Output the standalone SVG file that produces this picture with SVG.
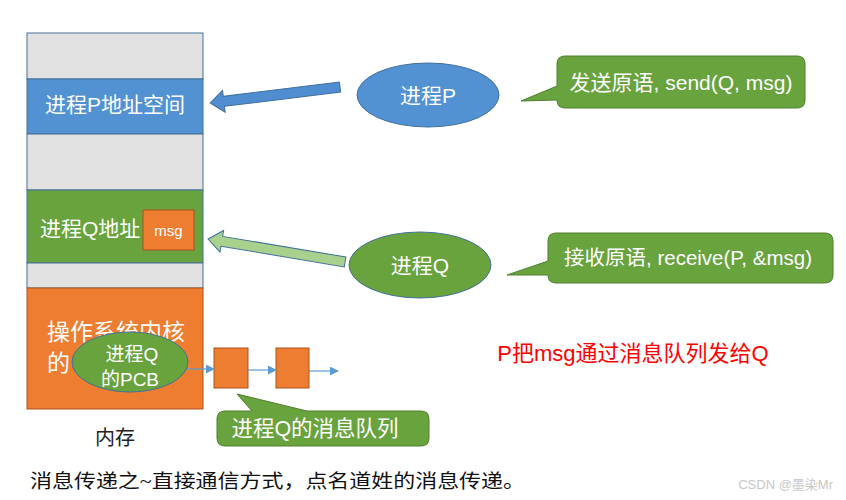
<svg xmlns="http://www.w3.org/2000/svg" width="846" height="500" viewBox="0 0 846 500">
<defs>
<style>
.t{font-family:"Liberation Sans","Noto Sans CJK SC",sans-serif;fill:#fff}
.gray{fill:#e1e1e1;stroke:#4a6f95;stroke-width:1}
.blue{fill:#5292d3;stroke:#41719c;stroke-width:1}
.green{fill:#68a33e;stroke:#41719c;stroke-width:1}
.orange{fill:#ed7d31;stroke:#a9541c;stroke-width:1}
.cg{fill:#68a33e;stroke:#507e30;stroke-width:1}
.ql{stroke:#5b9bd5;stroke-width:1.2;fill:none;marker-end:url(#ah)}
</style>
<marker id="ah" viewBox="0 0 10 10" refX="9" refY="5" markerWidth="9" markerHeight="9" markerUnits="userSpaceOnUse" orient="auto">
<path d="M0,0 L10,5 L0,10 z" fill="#5b9bd5"/>
</marker>
</defs>
<rect width="846" height="500" fill="#fff"/>

<g id="memory">
<rect class="gray" x="27" y="33" width="176" height="46"/>
<rect class="blue" x="27" y="79" width="176" height="55"/>
<rect class="gray" x="27" y="134" width="176" height="56"/>
<rect class="green" x="27" y="190" width="176" height="73"/>
<rect class="gray" x="27" y="263" width="176" height="25"/>
<rect class="orange" x="27" y="288" width="176" height="121"/>
<text class="t" x="115" y="112" font-size="21" text-anchor="middle">进程P地址空间</text>
<text class="t" x="40" y="236" font-size="21">进程Q地址</text>
<text class="t" x="47" y="340" font-size="23">操作系统内核</text>
<text class="t" x="47" y="371" font-size="23">的</text>
<text x="115" y="445" font-size="20" text-anchor="middle" font-family="Noto Sans CJK SC,sans-serif" fill="#222">内存</text>
</g>

<g id="msg">
<rect class="orange" x="143" y="210" width="51" height="40"/>
<text class="t" x="168.5" y="236" font-size="15" text-anchor="middle">msg</text>
</g>

<g id="pcb">
<ellipse class="green" cx="130" cy="362" rx="58" ry="30"/>
<text class="t" x="132" y="361" font-size="19" text-anchor="middle">进程Q</text>
<text class="t" x="130" y="386" font-size="19" text-anchor="middle">的PCB</text>
</g>

<g id="queue1"><rect class="orange" x="214" y="348" width="34" height="40"/></g>
<g id="queue2"><rect class="orange" x="276" y="348" width="33" height="40"/></g>

<g id="procP">
<ellipse class="blue" cx="428" cy="95" rx="71" ry="32"/>
<text class="t" x="428" y="103" font-size="21" text-anchor="middle">进程P</text>
</g>

<g id="procQ">
<ellipse class="green" cx="420" cy="265" rx="71" ry="33"/>
<text class="t" x="420" y="273" font-size="21" text-anchor="middle">进程Q</text>
</g>

<g id="callout-send">
<path class="cg" d="M565,56 H797 Q805,56 805,64 V100 Q805,108 797,108 H565 Q557,108 557,100 L521,101 L557,86 V64 Q557,56 565,56 Z"/>
<text class="t" x="681" y="90" font-size="21" text-anchor="middle">发送原语, send(Q, msg)</text>
</g>

<g id="callout-receive">
<path class="cg" d="M556,233 H825 Q833,233 833,241 V275 Q833,283 825,283 H556 Q548,283 548,275 L507,275 L548,261 V241 Q548,233 556,233 Z"/>
<text class="t" x="688" y="265" font-size="20.5" text-anchor="middle">接收原语, receive(P, &amp;msg)</text>
</g>

<g id="callout-queue">
<path class="cg" d="M225,411 H252 L237,394 L307,411 H421 Q429,411 429,419 V438 Q429,446 421,446 H225 Q217,446 217,438 V419 Q217,411 225,411 Z"/>
<text class="t" x="315" y="436" font-size="21.5" text-anchor="middle">进程Q的消息队列</text>
</g>

<g id="connectors">
<polygon transform="translate(210,103) rotate(-7)" points="0,0 14,-11 14,-5 131,-5 131,5 14,5 14,11" fill="#4f8dd0" stroke="#41719c" stroke-width="1"/>
<polygon transform="translate(208,239) rotate(9.5)" points="0,0 14,-11 14,-5 139,-5 139,5 14,5 14,11" fill="#a9d18e" stroke="#41719c" stroke-width="1"/>
<line class="ql" x1="188" y1="369" x2="214" y2="369"/>
<line class="ql" x1="248" y1="370" x2="276" y2="370"/>
<line class="ql" x1="309" y1="371" x2="338" y2="371"/>
</g>

<text x="633" y="361" font-size="22" text-anchor="middle" font-family="Liberation Sans,Noto Sans CJK SC,sans-serif" fill="#ff0000">P把msg通过消息队列发给Q</text>
<text x="30" y="488" font-size="19" textLength="495" lengthAdjust="spacingAndGlyphs" font-family="Liberation Serif,Noto Sans CJK SC,serif" fill="#111">消息传递之~直接通信方式，点名道姓的消息传递。</text>
<text x="833" y="489" font-size="13" text-anchor="end" font-family="Liberation Sans,Noto Sans CJK SC,sans-serif" fill="#c8c8c8">CSDN @墨染Mr</text>
</svg>
